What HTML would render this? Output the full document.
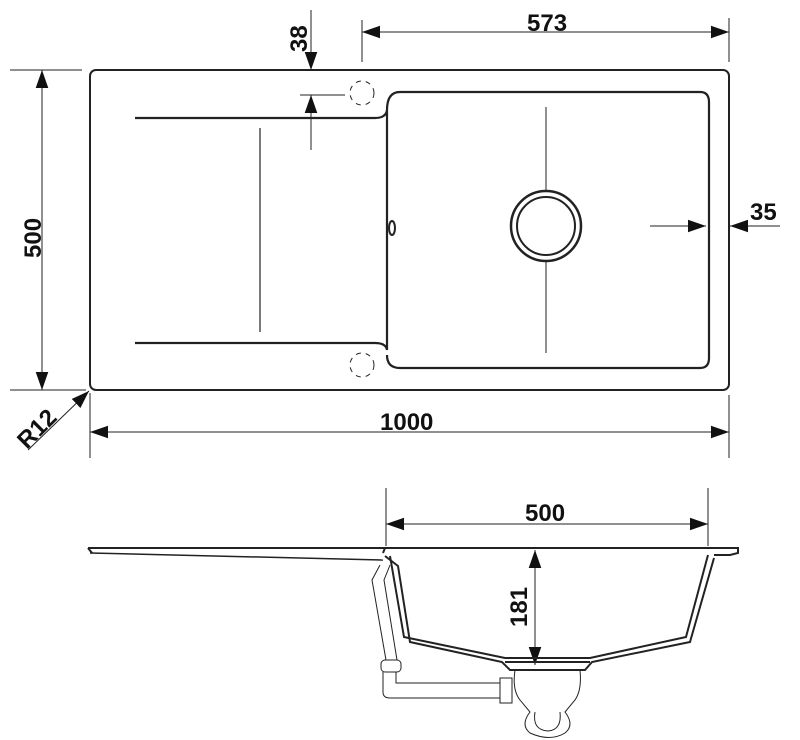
<!DOCTYPE html>
<html><head><style>body{margin:0;background:#fff}svg{display:block}text{font-family:"Liberation Sans",sans-serif;font-weight:bold;font-size:24px;fill:#111}</style></head><body>
<svg width="800" height="740" viewBox="0 0 800 740" xmlns="http://www.w3.org/2000/svg">
<defs><marker id="a" viewBox="0 0 10 10" refX="10" refY="5" markerWidth="18" markerHeight="18" markerUnits="userSpaceOnUse" orient="auto-start-reverse"><path d="M0,1.5L10,5L0,8.5z" fill="#111"/></marker></defs>
<g fill="none" stroke="#222">
<rect x="90" y="70" width="639" height="320" rx="6" stroke-width="2"/>
<path d="M135,118H375Q386,118 387,110V350Q386,343 375,343H135" stroke-width="2.2"/>
<path d="M387,110Q387,92 400,92H700Q709,92 709,102V358Q709,368 700,368H400Q387,368 387,355" stroke-width="2.2"/>
<line x1="260" y1="128" x2="260" y2="332" stroke-width="1.2"/>
<circle cx="546" cy="226" r="35" stroke-width="2.5"/><circle cx="546" cy="226" r="29" stroke-width="2"/>
<line x1="546" y1="107" x2="546" y2="190" stroke-width="1"/><line x1="546" y1="262" x2="546" y2="353" stroke-width="1"/>
<ellipse cx="392" cy="228" rx="3" ry="7" stroke-width="2"/>
<circle cx="362" cy="93" r="12" stroke-dasharray="5 5" stroke-width="1"/><circle cx="362" cy="365" r="12" stroke-dasharray="5 5" stroke-width="1"/>
<g stroke-width="1">
<line x1="362" y1="20" x2="362" y2="62"/><line x1="729" y1="18" x2="729" y2="62"/>
<line x1="362" y1="32" x2="729" y2="32" marker-start="url(#a)" marker-end="url(#a)"/>
<line x1="311" y1="10" x2="311" y2="70" marker-end="url(#a)"/><line x1="311" y1="150" x2="311" y2="95" marker-end="url(#a)"/>
<line x1="300" y1="95" x2="345" y2="95"/>
<line x1="10" y1="70" x2="82" y2="70"/><line x1="10" y1="390" x2="86" y2="390"/>
<line x1="42" y1="70" x2="42" y2="390" marker-start="url(#a)" marker-end="url(#a)"/>
<line x1="650" y1="226" x2="706" y2="226" marker-end="url(#a)"/><line x1="780" y1="226" x2="730" y2="226" marker-end="url(#a)"/>
<line x1="90" y1="393" x2="90" y2="458"/><line x1="729" y1="395" x2="729" y2="458"/>
<line x1="90" y1="432" x2="729" y2="432" marker-start="url(#a)" marker-end="url(#a)"/>
<line x1="28" y1="450" x2="89" y2="391" marker-end="url(#a)"/>
<line x1="386" y1="488" x2="386" y2="546"/><line x1="708" y1="488" x2="708" y2="546"/>
<line x1="386" y1="524" x2="708" y2="524" marker-start="url(#a)" marker-end="url(#a)"/>
<line x1="535" y1="550" x2="535" y2="665" marker-start="url(#a)" marker-end="url(#a)"/>
</g>
<path d="M88,548H738V553L730,555H714M92,553L88,548" stroke-width="2"/>
<path d="M90,553L383,560" stroke-width="1.5"/>
<path d="M383,553L385,548M385,556L398,566L410,642L502,662L510,670L585,670L592,662L690,642L714,558" stroke-width="2"/>
<path d="M390,556L404,637L505,658L590,658L686,637L708,555" stroke-width="2"/>
<path d="M505,662H590" stroke-width="2"/>
<g stroke-width="1">
<path d="M380,565L372,580L386,660"/><path d="M390,565L384,580L397,660"/>
<rect x="381" y="660" width="20" height="12" rx="4"/>
<path d="M383,672V692Q383,698 390,698H500"/><path d="M396,672V683H500"/>
<rect x="500" y="678" width="12" height="25"/>
<path d="M515,670Q512,690 520,700L530,712Q520,725 530,733Q550,742 565,733Q575,725 565,712L575,700Q582,690 580,670"/>
<path d="M535,712Q532,730 548,731Q562,730 560,712"/>
</g>
</g>
<text x="527" y="31">573</text>
<text x="380" y="430">1000</text>
<text x="525" y="521">500</text>
<text x="750" y="220">35</text>
<text transform="translate(307,52) rotate(-90)">38</text>
<text transform="translate(41,258) rotate(-90)">500</text>
<text transform="translate(527,627) rotate(-90)">181</text>
<text transform="translate(27,450) rotate(-45)">R12</text>
</svg>
</body></html>
